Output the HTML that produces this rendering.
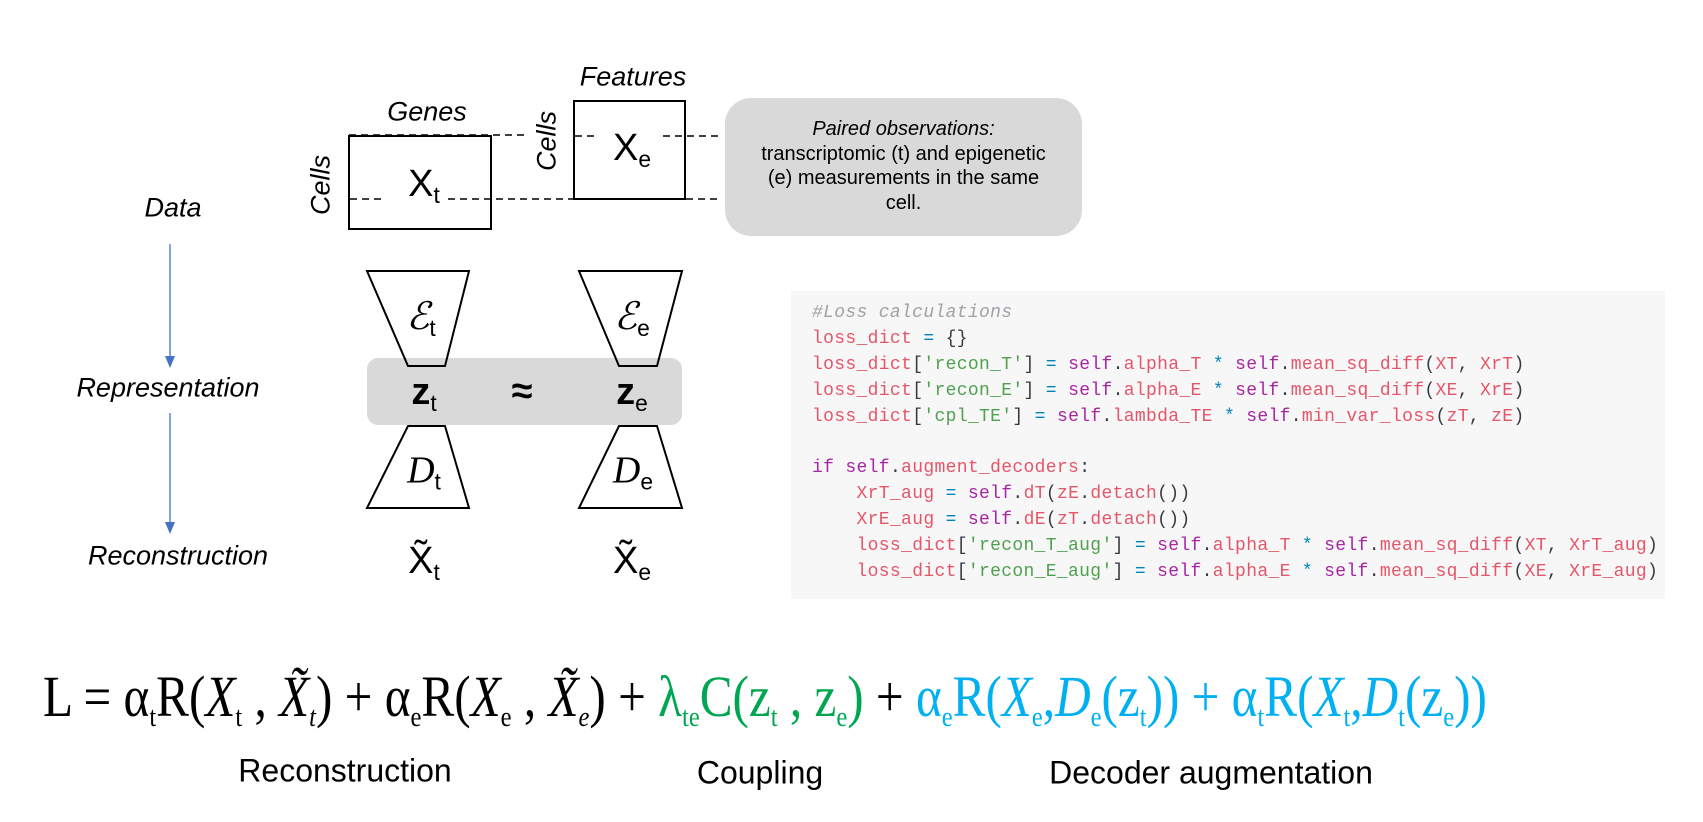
<!DOCTYPE html>
<html><head><meta charset="utf-8"><style>
body{margin:0;width:1703px;height:822px;background:#fff;position:relative;overflow:hidden;font-family:"Liberation Sans",sans-serif;}
.a{position:absolute;}
.it{font-style:italic;}
.lbl{font-style:italic;font-size:27px;transform:translate(-50%,-50%);white-space:nowrap;}
.code{left:791px;top:291px;width:874px;height:308px;background:#f7f7f7;}
.code pre{margin:0;position:absolute;left:21px;top:10px;font-family:"Liberation Mono","DejaVu Sans Mono",monospace;font-size:18px;letter-spacing:0.33px;line-height:25.9px;color:#383a42;}
.r{color:#e45669}.g{color:#50a14f}.p{color:#a626a4}.b{color:#0184bc}.c{color:#a0a1a7;font-style:italic}
.eq{left:43px;top:668px;font-family:"Liberation Serif",serif;font-size:58px;white-space:nowrap;transform-origin:0 0;transform:scaleX(0.848);line-height:1;}
.eq sub{font-size:0.5em;vertical-align:-0.35em;}
.grn{color:#00a651}.blu{color:#00b0f0}
.bot{font-size:32px;transform:translate(-50%,-50%);white-space:nowrap;}
.math{font-family:"Liberation Sans",sans-serif;font-size:38px;transform:translate(-50%,-50%);white-space:nowrap;}
.math sub{font-size:0.6em;vertical-align:-0.3em;}
</style></head><body>
<svg class="a" style="left:0;top:0" width="1703" height="822">
<line x1="170" y1="244" x2="170" y2="360" stroke="#4472c4" stroke-width="1.3"/>
<path d="M165,356 L175,356 L170,368 Z" fill="#4472c4"/>
<line x1="170" y1="413" x2="170" y2="526" stroke="#4472c4" stroke-width="1.3"/>
<path d="M165,522 L175,522 L170,534 Z" fill="#4472c4"/>
<rect x="349" y="136" width="142" height="93" fill="none" stroke="#000" stroke-width="2"/>
<rect x="574" y="101" width="111" height="98" fill="none" stroke="#000" stroke-width="2"/>
<g stroke="#000" stroke-width="1.6" stroke-dasharray="7,5" fill="none">
<line x1="349" y1="135" x2="525" y2="135"/>
<line x1="575" y1="136" x2="598" y2="136"/>
<line x1="663" y1="136" x2="722" y2="136"/>
<line x1="350" y1="199" x2="382" y2="199"/>
<line x1="448" y1="199" x2="574" y2="199"/>
<line x1="686" y1="199" x2="722" y2="199"/>
</g>
<rect x="725" y="98" width="357" height="138" rx="26" fill="#d9d9d9"/>
<rect x="367" y="358" width="315" height="67" rx="11" fill="#d9d9d9"/>
<g fill="none" stroke="#000" stroke-width="2">
<path d="M367,271 L469,271 L445,366 L408,366 Z"/>
<path d="M579,271 L682,271 L657,366 L619,366 Z"/>
<path d="M408,426 L445,426 L469,508 L367,508 Z"/>
<path d="M619,426 L657,426 L682,508 L579,508 Z"/>
</g>
</svg>
<div class="a lbl" style="left:173px;top:208px">Data</div>
<div class="a lbl" style="left:168px;top:388px">Representation</div>
<div class="a lbl" style="left:178px;top:556px">Reconstruction</div>
<div class="a lbl" style="left:427px;top:112px">Genes</div>
<div class="a lbl" style="left:633px;top:77px">Features</div>
<div class="a lbl" style="left:321px;top:185px;transform:translate(-50%,-50%) rotate(-90deg)">Cells</div>
<div class="a lbl" style="left:547px;top:141px;transform:translate(-50%,-50%) rotate(-90deg)">Cells</div>
<div class="a math" style="left:424px;top:186px">X<sub>t</sub></div>
<div class="a math" style="left:632px;top:150px">X<sub>e</sub></div>
<div class="a" style="left:725px;top:117px;width:357px;text-align:center;font-size:20px;line-height:24.5px;"><span class="it">Paired observations:</span><br>transcriptomic (t) and epigenetic<br>(e) measurements in the same<br>cell.</div>
<div class="a math" style="left:421px;top:318px;font-family:'Liberation Serif',serif;font-style:italic">ℰ<sub style="font-style:normal;font-family:'Liberation Sans'">t</sub></div>
<div class="a math" style="left:632px;top:318px;font-family:'Liberation Serif',serif;font-style:italic">ℰ<sub style="font-style:normal;font-family:'Liberation Sans'">e</sub></div>
<div class="a math" style="left:424px;top:394px;font-weight:bold">z<sub style="font-weight:normal">t</sub></div>
<div class="a math" style="left:522px;top:392px;font-weight:bold">≈</div>
<div class="a math" style="left:632px;top:394px;font-weight:bold">z<sub style="font-weight:normal">e</sub></div>
<div class="a math" style="left:424px;top:472px;font-family:'Liberation Serif',serif;font-style:italic">D<sub style="font-style:normal;font-family:'Liberation Sans'">t</sub></div>
<div class="a math" style="left:633px;top:472px;font-family:'Liberation Serif',serif;font-style:italic">D<sub style="font-style:normal;font-family:'Liberation Sans'">e</sub></div>
<div class="a math" style="left:424px;top:563px">X̃<sub>t</sub></div>
<div class="a math" style="left:632px;top:563px">X̃<sub>e</sub></div>
<div class="a code"><pre><span class="c">#Loss calculations</span>
<span class="r">loss_dict</span> <span class="b">=</span> {}
<span class="r">loss_dict</span>[<span class="g">'recon_T'</span>] <span class="b">=</span> <span class="p">self</span>.<span class="r">alpha_T</span> <span class="b">*</span> <span class="p">self</span>.<span class="r">mean_sq_diff</span>(<span class="r">XT</span>, <span class="r">XrT</span>)
<span class="r">loss_dict</span>[<span class="g">'recon_E'</span>] <span class="b">=</span> <span class="p">self</span>.<span class="r">alpha_E</span> <span class="b">*</span> <span class="p">self</span>.<span class="r">mean_sq_diff</span>(<span class="r">XE</span>, <span class="r">XrE</span>)
<span class="r">loss_dict</span>[<span class="g">'cpl_TE'</span>] <span class="b">=</span> <span class="p">self</span>.<span class="r">lambda_TE</span> <span class="b">*</span> <span class="p">self</span>.<span class="r">min_var_loss</span>(<span class="r">zT</span>, <span class="r">zE</span>)

<span class="p">if</span> <span class="p">self</span>.<span class="r">augment_decoders</span>:
    <span class="r">XrT_aug</span> <span class="b">=</span> <span class="p">self</span>.<span class="r">dT</span>(<span class="r">zE</span>.<span class="r">detach</span>())
    <span class="r">XrE_aug</span> <span class="b">=</span> <span class="p">self</span>.<span class="r">dE</span>(<span class="r">zT</span>.<span class="r">detach</span>())
    <span class="r">loss_dict</span>[<span class="g">'recon_T_aug'</span>] <span class="b">=</span> <span class="p">self</span>.<span class="r">alpha_T</span> <span class="b">*</span> <span class="p">self</span>.<span class="r">mean_sq_diff</span>(<span class="r">XT</span>, <span class="r">XrT_aug</span>)
    <span class="r">loss_dict</span>[<span class="g">'recon_E_aug'</span>] <span class="b">=</span> <span class="p">self</span>.<span class="r">alpha_E</span> <span class="b">*</span> <span class="p">self</span>.<span class="r">mean_sq_diff</span>(<span class="r">XE</span>, <span class="r">XrE_aug</span>)</pre></div>
<div class="a eq">L = α<sub>t</sub>R(<i>X</i><sub>t</sub> , <i>X̃<sub>t</sub></i>) + α<sub>e</sub>R(<i>X</i><sub>e</sub> , <i>X̃<sub>e</sub></i>) + <span class="grn">λ<sub>te</sub>C(z<sub>t</sub> , z<sub>e</sub>)</span> + <span class="blu">α<sub>e</sub>R(<i>X</i><sub>e</sub>,<i>D</i><sub>e</sub>(z<sub>t</sub>)) + α<sub>t</sub>R(<i>X</i><sub>t</sub>,<i>D</i><sub>t</sub>(z<sub>e</sub>))</span></div>
<div class="a bot" style="left:345px;top:771px">Reconstruction</div>
<div class="a bot" style="left:760px;top:773px">Coupling</div>
<div class="a bot" style="left:1211px;top:773px">Decoder augmentation</div>
</body></html>
